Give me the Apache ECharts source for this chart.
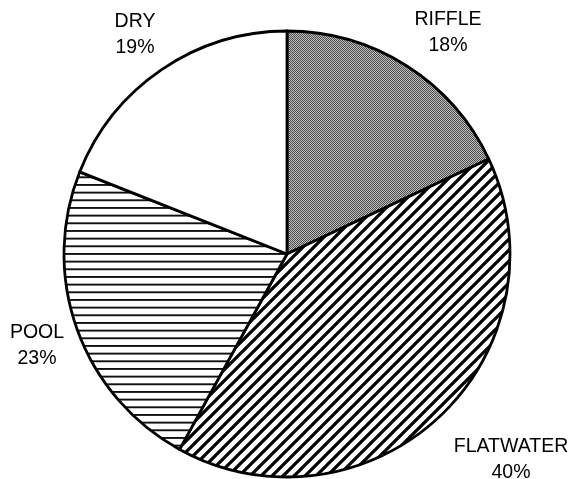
<!DOCTYPE html>
<html>
<head>
<meta charset="utf-8">
<script src="https://cdn.jsdelivr.net/npm/echarts@6/dist/echarts.min.js"></script>
<style>
html,body{margin:0;padding:0;background:#fff;}
#chart{width:574px;height:479px;}
</style>
</head>
<body>
<div id="chart"></div>
<script>
// Data
var categories = ['RIFFLE', 'FLATWATER', 'POOL', 'DRY'];
var values = [18, 40, 23, 19];

// Styling (label anchor positions in px, pattern kinds)
var labelPos = [[448, 33], [511, 460], [37, 346], [135, 35]];
var patternKinds = ['checker', 'diag', 'horiz', 'none'];

function makePattern(kind) {
  var c = document.createElement('canvas');
  var ctx;
  if (kind === 'checker') {
    c.width = 2; c.height = 2;
    ctx = c.getContext('2d');
    ctx.fillStyle = '#bdbdbd'; ctx.fillRect(0, 0, 2, 2);
    ctx.fillStyle = '#4e4e4e'; ctx.fillRect(0, 0, 1, 1); ctx.fillRect(1, 1, 1, 1);
    return { image: c, repeat: 'repeat' };
  }
  if (kind === 'diag') {
    var s = 11;
    c.width = s; c.height = s;
    ctx = c.getContext('2d');
    ctx.fillStyle = '#fff'; ctx.fillRect(0, 0, s, s);
    ctx.strokeStyle = '#000'; ctx.lineWidth = 3.3;
    ctx.beginPath();
    ctx.moveTo(-1, s + 1); ctx.lineTo(s + 1, -1);
    ctx.moveTo(-3, 3); ctx.lineTo(3, -3);
    ctx.moveTo(s - 3, s + 3); ctx.lineTo(s + 3, s - 3);
    ctx.stroke();
    return { image: c, repeat: 'repeat' };
  }
  if (kind === 'horiz') {
    var h = 23;
    c.width = 8; c.height = h;
    ctx = c.getContext('2d');
    ctx.fillStyle = '#fff'; ctx.fillRect(0, 0, 8, h);
    ctx.fillStyle = '#111';
    [0, 7.67, 15.33].forEach(function (y) { ctx.fillRect(0, y, 8, 1.9); });
    return { image: c, repeat: 'repeat' };
  }
  return '#ffffff';
}

var data = categories.map(function (name, i) {
  return { name: name, value: values[i], itemStyle: { color: makePattern(patternKinds[i]) } };
});

var chart = echarts.init(document.getElementById('chart'), null, { renderer: 'canvas' });
chart.setOption({
  animation: false,
  backgroundColor: '#ffffff',
  series: [{
    type: 'pie',
    center: [287, 254],
    radius: 223,
    startAngle: 90,
    clockwise: true,
    avoidLabelOverlap: false,
    data: data,
    itemStyle: { borderColor: '#000', borderWidth: 2.8 },
    label: {
      show: true,
      position: 'outside',
      formatter: '{b}\n{d}%',
      fontFamily: 'Liberation Sans, Arial, sans-serif',
      fontSize: 19.5,
      lineHeight: 26,
      color: '#000',
      align: 'center'
    },
    labelLine: { show: false },
    labelLayout: function (params) {
      var p = labelPos[params.dataIndex];
      return { x: p[0], y: p[1], align: 'center', verticalAlign: 'middle', hideOverlap: false };
    },
    emphasis: { disabled: true }
  }]
});
</script>
</body>
</html>
